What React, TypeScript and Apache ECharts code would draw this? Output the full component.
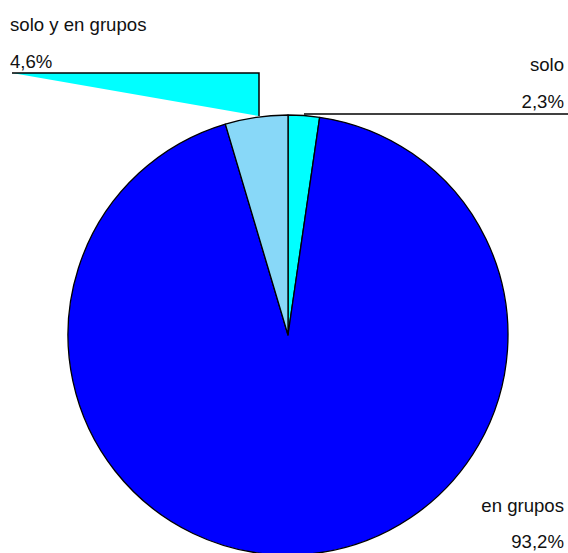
import React, { useEffect, useRef } from "react";
import * as echarts from "echarts";

const categories = ["solo", "en grupos", "solo y en grupos"];
const values = [2.3, 93.2, 4.6];
const colors = ["#00FFFF", "#0000FF", "#88D8F8"];

const fmt = (v: number) => v.toFixed(1).replace(".", ",") + "%";

export default function App() {
  const ref = useRef<HTMLDivElement>(null);
  useEffect(() => {
    if (!ref.current) return;
    const chart = echarts.init(ref.current, undefined, { renderer: "svg" });
    const font = "Liberation Sans, Arial, sans-serif";
    const txt = (x: number, y: number, text: string, align: string) => ({
      type: "text",
      x,
      y,
      style: {
        text,
        x: 0,
        y: 0,
        fill: "#111",
        font: `18.6px ${font}`,
        textAlign: align,
        textVerticalAlign: "middle",
      },
      z: 10,
    });
    chart.setOption({
      animation: false,
      backgroundColor: "#ffffff",
      series: [
        {
          type: "pie",
          center: [288, 335],
          radius: 220,
          startAngle: 90,
          clockwise: true,
          label: { show: false },
          labelLine: { show: false },
          silent: true,
          itemStyle: { borderColor: "#000", borderWidth: 1.3 },
          data: categories.map((c, i) => ({
            name: c,
            value: values[i],
            itemStyle: { color: colors[i] },
          })),
        },
      ],
      graphic: [
        {
          type: "polygon",
          shape: { points: [[12, 73], [259, 73], [259, 116]] },
          style: { fill: "#00FFFF", stroke: "none" },
          z: 5,
        },
        {
          type: "polyline",
          shape: { points: [[12, 73], [259, 73], [259, 116]] },
          style: { stroke: "#000", lineWidth: 1.5, fill: "none" },
          z: 6,
        },
        {
          type: "line",
          shape: { x1: 304, y1: 114, x2: 568, y2: 114 },
          style: { stroke: "#000", lineWidth: 1.5 },
          z: 6,
        },
        txt(10, 24, categories[2], "left"),
        txt(10, 61, fmt(values[2]), "left"),
        txt(564, 64, categories[0], "right"),
        txt(564, 101, fmt(values[0]), "right"),
        txt(564, 505, categories[1], "right"),
        txt(564, 541, fmt(values[1]), "right"),
      ],
    });
    return () => chart.dispose();
  }, []);
  return (
    <div
      ref={ref}
      style={{ position: "fixed", left: 0, top: 0, width: 568, height: 553 }}
    />
  );
}
